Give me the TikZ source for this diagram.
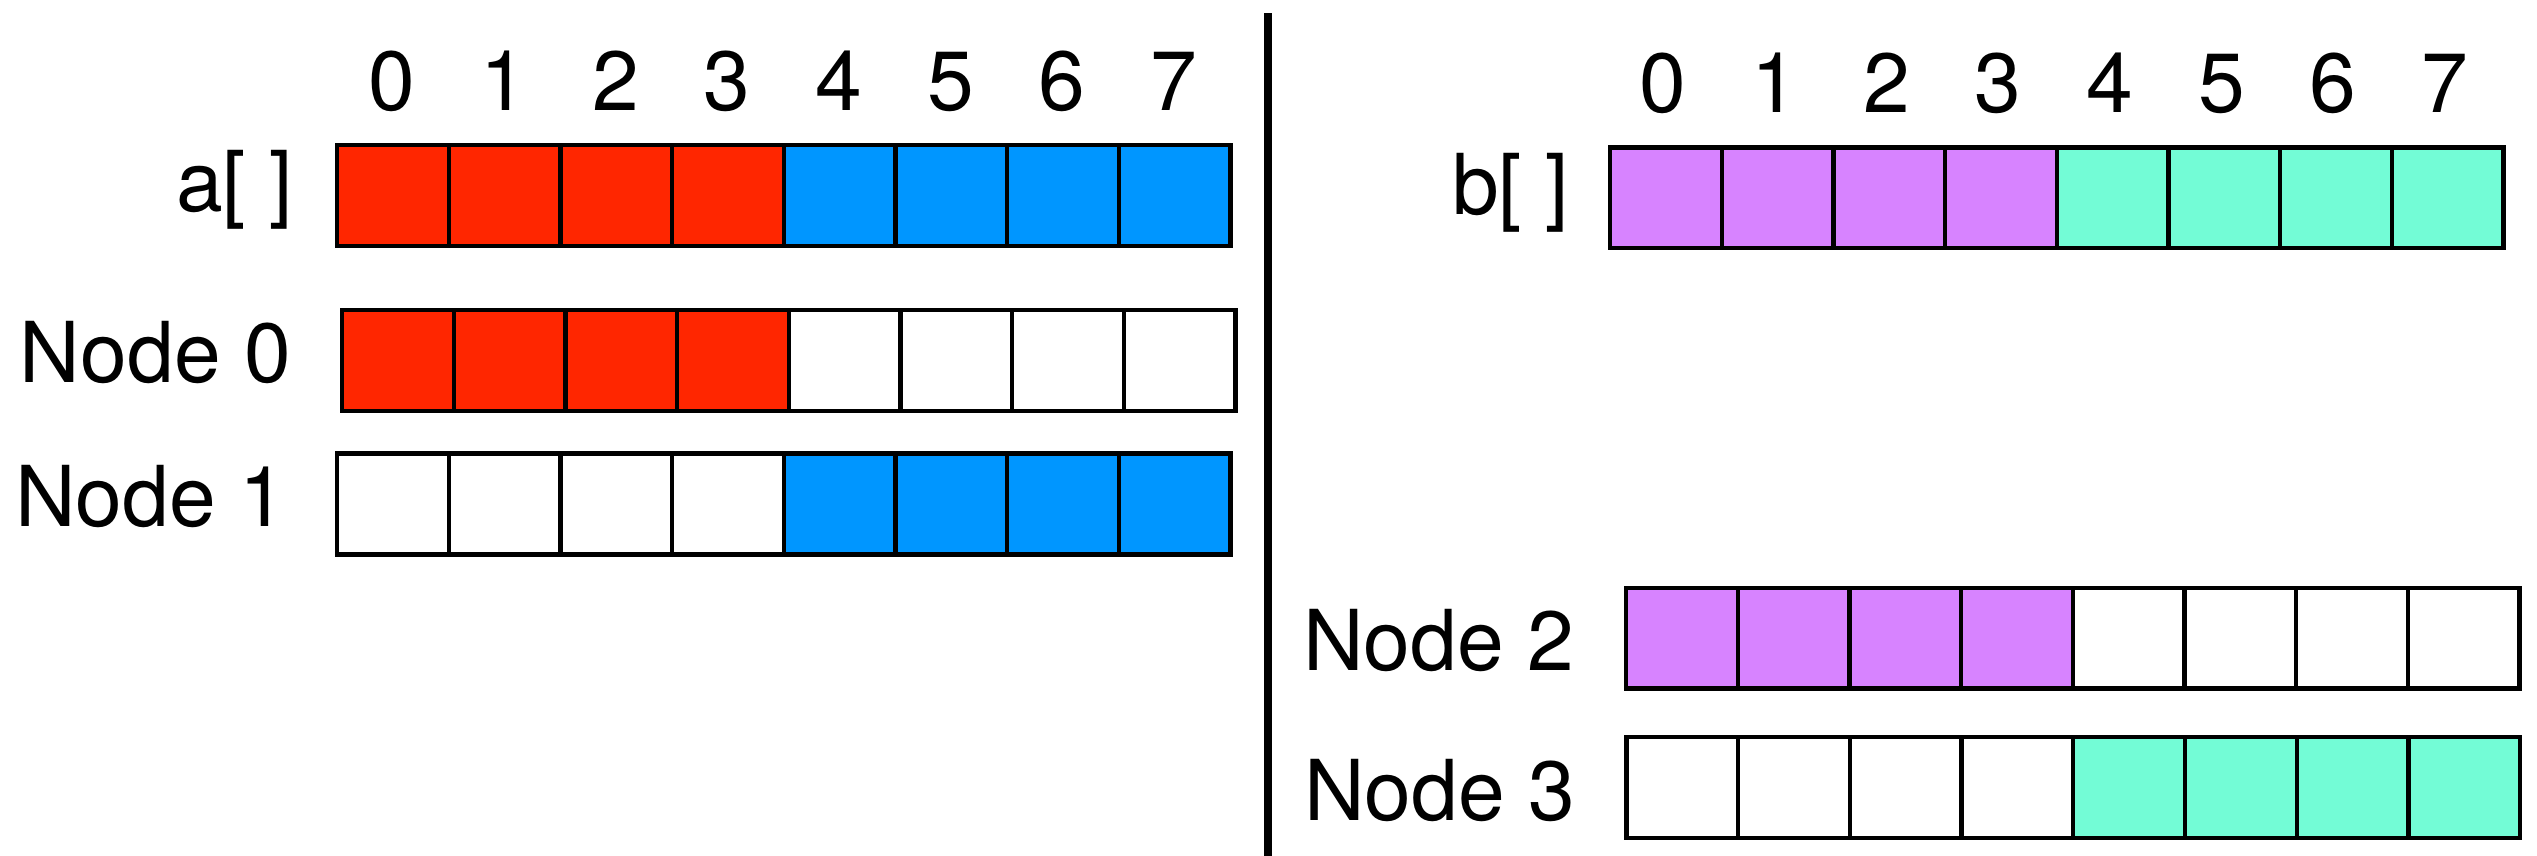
\documentclass[tikz,border=0pt]{standalone}
\usepackage{fontspec}
\setmainfont{TeX Gyre Heros}
\definecolor{cred}{HTML}{FF2600}
\definecolor{cblue}{HTML}{0096FF}
\definecolor{cpurp}{HTML}{D783FF}
\definecolor{cgreen}{HTML}{73FCD6}
\newcommand\cellrow[4]{%
  \foreach \c [count=\i from 0] in {#4} {%
    \node[cell, fill=\c] (#1\i) at ({#2+55.85+111.7*\i},#3) {};}}
\begin{document}
\begin{tikzpicture}[x=0.25pt,y=-0.25pt,
  cell/.style={draw=black, line width=1.075pt, minimum width=27.925pt,
    minimum height=25.2pt, inner sep=0pt, outer sep=0pt, anchor=center},
  lab/.style={font=\fontsize{21}{25}\selectfont, inner sep=0pt, outer sep=0pt},
  idx/.style={lab, anchor=base}]
\useasboundingbox (0,0) rectangle (2537,856);
% divider
\coordinate (vtop) at (1268.3,13);
\coordinate (vbot) at (1268.3,860);
\draw[line width=2pt] (vtop) -- (vbot);
% index labels
\foreach \d in {0,...,7} {
  \node[idx] (ai\d) at ({392+111.7*\d},110) {\d};
  \node[idx] (bi\d) at ({1663+111.7*\d},112.5) {\d};
}
% arrays
\cellrow{a}{337}{195.4}{cred,cred,cred,cred,cblue,cblue,cblue,cblue}
\cellrow{n0}{342}{360.5}{cred,cred,cred,cred,white,white,white,white}
\cellrow{n1}{337}{504}{white,white,white,white,cblue,cblue,cblue,cblue}
\cellrow{b}{1610}{197.9}{cpurp,cpurp,cpurp,cpurp,cgreen,cgreen,cgreen,cgreen}
\cellrow{n2}{1626}{638.2}{cpurp,cpurp,cpurp,cpurp,white,white,white,white}
\cellrow{n3}{1626.5}{787.7}{white,white,white,white,cgreen,cgreen,cgreen,cgreen}
% row labels
\node[lab, anchor=base east] (la) at (293,211) {a[ ]};
\node[lab, anchor=base east] (lb) at (1569,214) {b[ ]};
\node[lab, anchor=base west] (l0) at (20,382.7) {Node 0};
\node[lab, anchor=base west] (l1) at (15,526) {Node 1};
\node[lab, anchor=base west] (l2) at (1303,670.3) {Node 2};
\node[lab, anchor=base west] (l3) at (1304,820) {Node 3};
\end{tikzpicture}
\end{document}
